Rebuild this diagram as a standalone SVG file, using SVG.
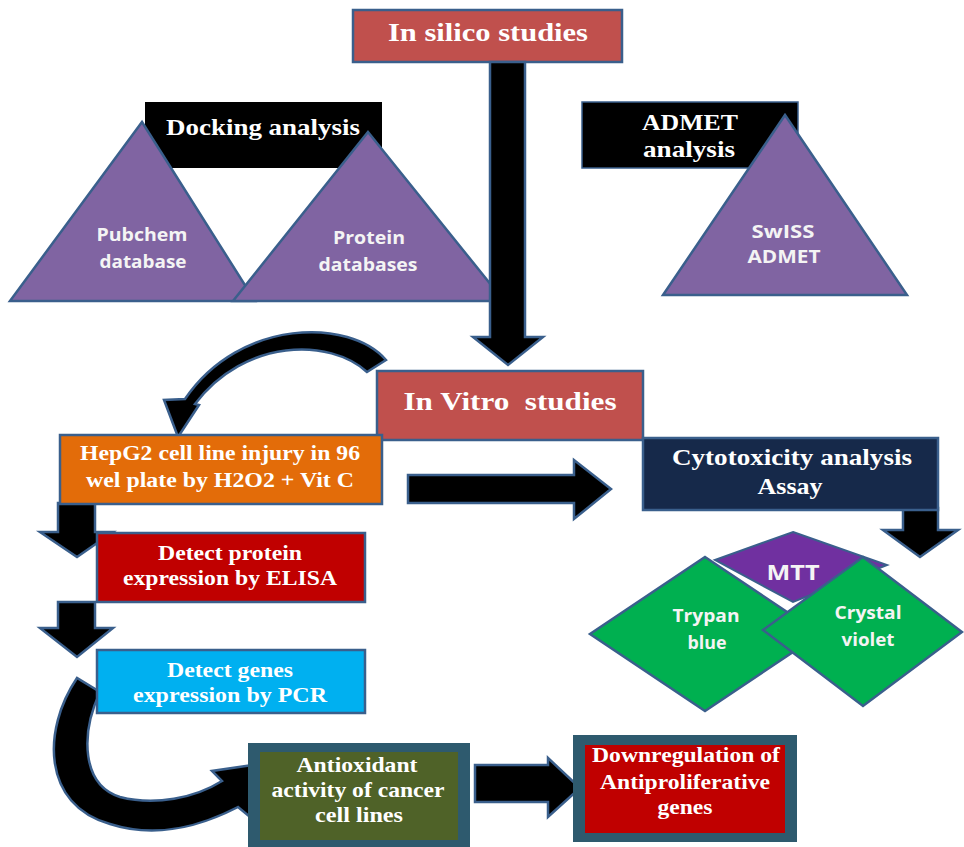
<svg xmlns="http://www.w3.org/2000/svg" width="964" height="847" viewBox="0 0 964 847">
<style>
.box{stroke:#3A5F8C;stroke-width:2.5}
.arr{fill:#000;stroke:#3A5F8C;stroke-width:2.5;stroke-linejoin:miter}
.tri{fill:#8064A2;stroke:#3A5F8C;stroke-width:2.5}
.st{font-family:"Liberation Serif","Times New Roman",serif;font-weight:bold;fill:#fff;text-anchor:middle}
.ss{font-family:"Open Sans","Liberation Sans",sans-serif;font-weight:bold;fill:#f4f4f4;text-anchor:middle}
</style>
<rect width="964" height="847" fill="#fff"/>

<g id="in-silico">
<rect class="box" x="353" y="10" width="269" height="52" fill="#C0504D"/>
<text class="st" x="488" y="41" font-size="26" textLength="200" lengthAdjust="spacingAndGlyphs">In silico studies</text>
</g>

<g id="docking">
<rect x="145" y="102" width="237" height="66" fill="#000"/>
<text class="st" x="263" y="135" font-size="23" textLength="194" lengthAdjust="spacingAndGlyphs">Docking analysis</text>
</g>
<g id="pubchem">
<polygon class="tri" points="142,122 255,301 10,301"/>
<text class="ss" x="142" y="241" font-size="17.5" textLength="91" lengthAdjust="spacingAndGlyphs">Pubchem</text>
<text class="ss" x="143" y="268" font-size="17.5" textLength="87" lengthAdjust="spacingAndGlyphs">database</text>
</g>
<g id="protein">
<polygon class="tri" points="368,132 504,301 233,301"/>
<text class="ss" x="369" y="244" font-size="17.5" textLength="72" lengthAdjust="spacingAndGlyphs">Protein</text>
<text class="ss" x="368" y="271" font-size="17.5" textLength="99" lengthAdjust="spacingAndGlyphs">databases</text>
</g>

<g id="admet">
<rect x="582" y="102" width="216" height="66" fill="#000" stroke="#3A5F8C" stroke-width="1.5"/>
<text class="st" x="690" y="130" font-size="23" textLength="96" lengthAdjust="spacingAndGlyphs">ADMET</text>
<text class="st" x="689" y="157" font-size="23" textLength="92" lengthAdjust="spacingAndGlyphs">analysis</text>
</g>
<g id="swiss">
<polygon class="tri" points="785,115 907,295 663,295"/>
<text class="ss" x="783" y="238" font-size="17.5" textLength="63" lengthAdjust="spacingAndGlyphs">SwISS</text>
<text class="ss" x="784" y="263" font-size="17.5" textLength="73" lengthAdjust="spacingAndGlyphs">ADMET</text>
</g>

<g id="connectors">
<polygon class="arr" points="490,62 525,62 525,337 543,337 508,365 473,337 490,337"/>
<path class="arr" d="M386,360 C350,318 240,318 185,399 L164,400 L178,437 L199,405 L195,404 C245,338 330,338 367,372 Z"/>
<polygon class="arr" points="408,475 574,475 574,460 611,489 574,519 574,503 408,503"/>
<polygon class="arr" points="903,508 938,508 938,530 958,530 920,557 883,530 903,530"/>
<polygon class="arr" points="58,503 95,503 95,532 113,532 77,557 40,532 58,532"/>
<polygon class="arr" points="58,602 95,602 95,628 113,628 77,657 40,628 58,628"/>
<path class="arr" d="M77,678 C42,730 42,805 110,824 C160,840 205,824 238,807 L250,817 L260,764 L212,771 L222,781 C195,798 155,806 120,797 C82,785 80,735 100,692 Z"/>
<polygon class="arr" points="475,765 548,765 548,758 580,788 548,817 548,802 475,802"/>
</g>

<g id="in-vitro">
<rect class="box" x="377" y="371" width="266" height="69" fill="#C0504D"/>
<text class="st" x="510" y="410" font-size="26" xml:space="preserve" textLength="213" lengthAdjust="spacingAndGlyphs">In Vitro  studies</text>
</g>

<g id="hepg2">
<rect class="box" x="60" y="435" width="322" height="69" fill="#E36C09"/>
<text class="st" x="220" y="460" font-size="20" textLength="280" lengthAdjust="spacingAndGlyphs">HepG2 cell line injury in 96</text>
<text class="st" x="220" y="487" font-size="20" textLength="268" lengthAdjust="spacingAndGlyphs">wel plate by H2O2 + Vit C</text>
</g>

<g id="cytotoxicity">
<rect class="box" x="643" y="438" width="295" height="72" fill="#16294A"/>
<text class="st" x="792" y="465" font-size="23" textLength="240" lengthAdjust="spacingAndGlyphs">Cytotoxicity analysis</text>
<text class="st" x="790" y="494" font-size="23" textLength="65" lengthAdjust="spacingAndGlyphs">Assay</text>
</g>

<g id="mtt">
<polygon points="793,532 887,565 793,602 715,560" fill="#7030A0" stroke="#3A5F8C" stroke-width="2"/>
<text class="ss" x="793" y="580" font-size="22" textLength="53" lengthAdjust="spacingAndGlyphs">MTT</text>
</g>
<g id="trypan">
<polygon points="705,557 820,634 705,711 590,634" fill="#00B050" stroke="#3A5F8C" stroke-width="2.5"/>
<text class="ss" x="706" y="622" font-size="18" textLength="67" lengthAdjust="spacingAndGlyphs">Trypan</text>
<text class="ss" x="707" y="649" font-size="18" textLength="39" lengthAdjust="spacingAndGlyphs">blue</text>
</g>
<g id="crystal">
<polygon points="863,557 962,632 863,706 763,630" fill="#00B050" stroke="#3A5F8C" stroke-width="2.5"/>
<text class="ss" x="868" y="619" font-size="18" textLength="67" lengthAdjust="spacingAndGlyphs">Crystal</text>
<text class="ss" x="868" y="646" font-size="18" textLength="53" lengthAdjust="spacingAndGlyphs">violet</text>
</g>

<g id="elisa">
<rect class="box" x="97" y="533" width="268" height="69" fill="#C00000"/>
<text class="st" x="230" y="560" font-size="21" textLength="144" lengthAdjust="spacingAndGlyphs">Detect protein</text>
<text class="st" x="230" y="585" font-size="21" textLength="214" lengthAdjust="spacingAndGlyphs">expression by ELISA</text>
</g>

<g id="pcr">
<rect class="box" x="97" y="650" width="268" height="63" fill="#00B0F0"/>
<text class="st" x="230" y="677" font-size="21" textLength="126" lengthAdjust="spacingAndGlyphs">Detect genes</text>
<text class="st" x="230" y="702" font-size="21" textLength="194" lengthAdjust="spacingAndGlyphs">expression by PCR</text>
</g>

<g id="antioxidant">
<rect x="248" y="743" width="222" height="104" fill="#2E5A6E"/>
<rect x="260" y="752" width="198" height="88" fill="#4F6228"/>
<text class="st" x="357" y="772" font-size="21" textLength="121" lengthAdjust="spacingAndGlyphs">Antioxidant</text>
<text class="st" x="358" y="797" font-size="21" textLength="173" lengthAdjust="spacingAndGlyphs">activity of cancer</text>
<text class="st" x="359" y="822" font-size="21" textLength="88" lengthAdjust="spacingAndGlyphs">cell lines</text>
</g>

<g id="downregulation">
<rect x="573" y="735" width="224" height="107" fill="#2E5A6E"/>
<rect x="585" y="745" width="200" height="88" fill="#C00000"/>
<text class="st" x="686" y="762" font-size="21" textLength="188" lengthAdjust="spacingAndGlyphs">Downregulation of</text>
<text class="st" x="685" y="789" font-size="21" textLength="170" lengthAdjust="spacingAndGlyphs">Antiproliferative</text>
<text class="st" x="685" y="814" font-size="21" textLength="55" lengthAdjust="spacingAndGlyphs">genes</text>
</g>
</svg>
